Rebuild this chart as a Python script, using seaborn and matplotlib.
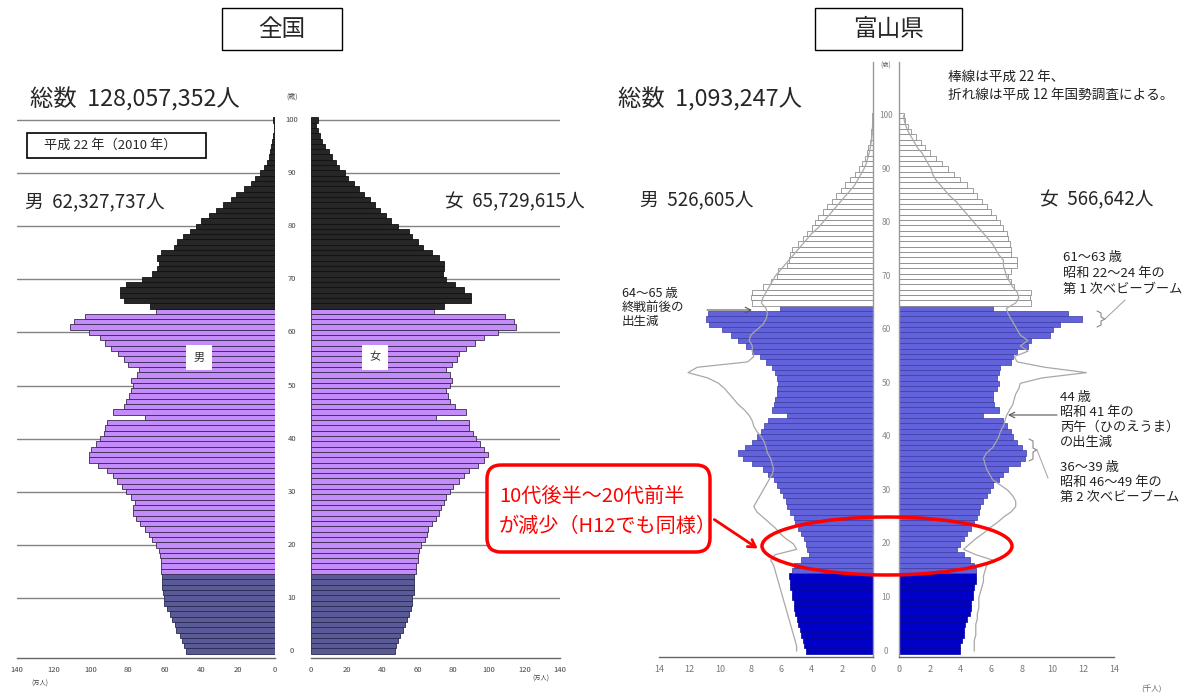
import matplotlib
matplotlib.use('Agg')
import matplotlib.pyplot as plt
from matplotlib.patches import Rectangle, FancyBboxPatch, Ellipse
from matplotlib.transforms import blended_transform_factory
import pandas as pd
import seaborn as sns

# ---- data ----
ages = list(range(101))

# 全国 平成22年 (万人)
jp_male = [48.5, 49.5, 50.5, 51.5, 53.5, 54.5, 56, 57, 58.5, 60,
           60.5, 61, 61.5, 61.5, 61.5, 62, 62, 62, 62.5, 63,
           64.5, 66.5, 68.5, 70.5, 73.5, 75.5, 77, 77, 76, 78,
           81, 83, 86, 88, 91, 96, 101, 101, 100, 97,
           95, 93, 92, 91, 70.5, 88, 82, 81, 79, 78,
           77, 78, 75, 74, 80, 82, 85, 89, 92, 95,
           101, 111, 109, 103, 64.5, 68, 82, 84, 84, 81,
           72, 67, 64, 63, 64, 62, 55, 53, 50, 46,
           43, 40, 36, 32, 28, 24, 21, 17, 13, 11,
           8, 6, 4.5, 3.5, 2.5, 2, 1.5, 1, 0.7, 0.5, 1]
jp_female = [47, 48, 49, 50, 52, 53, 54, 55, 56, 57,
             57, 58, 58, 58, 58, 59, 59, 60, 60, 61,
             62, 64, 65, 66, 68, 70.5, 72, 73, 75, 76,
             78, 80, 83, 86, 89, 94, 97.5, 99.5, 97.5, 95,
             93, 91, 89, 89, 70.5, 87, 81, 78, 77, 76,
             78, 79, 78, 76, 79, 82, 83, 87, 92, 97.5,
             105, 115, 114, 109, 69, 75, 90, 90, 86, 81,
             76, 74, 75, 75, 72, 68, 63, 60, 57, 55,
             49, 45, 42, 39, 36, 33, 30, 27, 24, 21,
             19, 16, 14, 12, 10, 8, 6, 5, 4, 3, 4]

# 富山県 平成22年 (千人)
toyama_male = [4.4, 4.5, 4.6, 4.7, 4.8, 4.9, 5.0, 5.1, 5.2, 5.2,
               5.3, 5.3, 5.4, 5.4, 5.5, 5.3, 5.2, 4.7, 4.2, 4.3,
               4.4, 4.5, 4.7, 4.9, 5.1, 5.2, 5.4, 5.6, 5.7, 5.9,
               6.1, 6.3, 6.5, 6.9, 7.2, 7.9, 8.5, 8.8, 8.4, 7.9,
               7.6, 7.3, 7.1, 6.9, 5.6, 6.6, 6.5, 6.4, 6.3, 6.3,
               6.2, 6.3, 6.4, 6.6, 7.0, 7.4, 7.9, 8.3, 8.8, 9.3,
               9.9, 10.7, 10.9, 10.8, 6.1, 7.9, 8.0, 7.9, 7.2, 6.7,
               6.3, 6.2, 5.6, 5.5, 5.4, 5.3, 4.9, 4.6, 4.3, 4.0,
               3.8, 3.6, 3.3, 3.0, 2.7, 2.4, 2.1, 1.8, 1.5, 1.2,
               0.9, 0.7, 0.5, 0.4, 0.3, 0.2, 0.15, 0.1, 0.08, 0.05, 0.06]
toyama_female = [4.0, 4.0, 4.1, 4.2, 4.2, 4.3, 4.4, 4.6, 4.7, 4.7,
                 4.8, 4.8, 4.9, 5.0, 5.0, 5.0, 4.9, 4.6, 4.2, 3.8,
                 4.0, 4.2, 4.4, 4.7, 4.9, 5.1, 5.2, 5.3, 5.5, 5.7,
                 5.9, 6.1, 6.5, 6.8, 7.1, 7.9, 8.2, 8.3, 8.0, 7.7,
                 7.4, 7.3, 7.0, 6.8, 5.5, 6.5, 6.2, 6.1, 6.1, 6.4,
                 6.5, 6.4, 6.5, 6.6, 7.3, 7.4, 7.7, 8.4, 8.6, 9.8,
                 10.0, 10.5, 11.9, 11.0, 6.1, 8.6, 8.5, 8.6, 7.5, 7.3,
                 7.1, 7.3, 7.7, 7.7, 7.3, 7.3, 7.2, 7.1, 7.0, 6.8,
                 6.6, 6.3, 6.0, 5.7, 5.4, 5.1, 4.8, 4.4, 4.0, 3.6,
                 3.2, 2.8, 2.4, 2.0, 1.7, 1.4, 1.1, 0.8, 0.6, 0.4, 0.3]

# 富山県 平成12年 (千人) 折れ線
toyama_male_h12 = [5.0, 5.0, 5.1, 5.2, 5.3, 5.4, 5.5, 5.6, 5.7, 5.8,
                   5.9, 6.0, 6.1, 6.2, 6.3, 6.4, 6.5, 6.7, 6.4, 5.0,
                   5.2, 5.7, 6.1, 6.4, 6.8, 7.2, 7.6, 7.8, 7.6, 7.4,
                   7.2, 7.0, 6.8, 6.6, 6.5, 6.6, 6.7, 6.9, 7.0, 7.1,
                   7.3, 7.6, 7.8, 7.9, 8.1, 8.4, 8.8, 9.1, 9.4, 9.7,
                   10.1, 10.8, 12.1, 11.5, 8.2, 7.8, 7.9, 7.9, 8.1, 8.0,
                   7.6, 7.2, 7.0, 6.9, 7.0, 7.3, 7.2, 7.0, 6.8, 6.6,
                   6.4, 6.1, 5.8, 5.5, 5.2, 4.9, 4.6, 4.3, 4.0, 3.6,
                   3.3, 3.0, 2.7, 2.4, 2.1, 1.8, 1.5, 1.2, 1.0, 0.8,
                   0.6, 0.45, 0.35, 0.25, 0.18, 0.12, 0.08, 0.05, 0.03, 0.02, 0.02]
toyama_female_h12 = [4.9, 4.9, 4.9, 5.0, 5.0, 5.0, 5.1, 5.1, 5.2, 5.2,
                     5.2, 5.3, 5.4, 5.5, 5.5, 5.6, 5.7, 6.1, 5.0, 4.2,
                     4.6, 5.0, 5.5, 5.9, 6.4, 6.8, 7.3, 7.6, 7.6, 7.4,
                     7.1, 6.6, 6.1, 5.9, 5.7, 5.6, 5.5, 5.7, 6.1, 6.3,
                     6.5, 6.6, 6.8, 6.9, 7.0, 7.2, 7.4, 7.5, 7.6, 7.8,
                     7.9, 9.3, 12.2, 9.5, 7.7, 7.5, 8.4, 7.9, 8.4, 7.9,
                     7.7, 7.5, 7.3, 7.1, 7.0, 7.6, 7.8, 7.7, 7.4, 7.2,
                     7.0, 6.9, 6.8, 6.8, 6.5, 6.3, 6.1, 5.8, 5.5, 5.2,
                     4.9, 4.6, 4.3, 4.0, 3.7, 3.3, 3.0, 2.7, 2.4, 2.2,
                     2.1, 1.9, 1.7, 1.5, 1.2, 1.0, 0.8, 0.6, 0.45, 0.35, 0.3]

jp_xticks = [0, 20, 40, 60, 80, 100, 120, 140]
toyama_xticks = [0, 2, 4, 6, 8, 10, 12, 14]
age_ticks = [0, 10, 20, 30, 40, 50, 60, 70, 80, 90, 100]

# ---- style ----
jp_colors = {'0-14': '#5a5a96', '15-64': '#c38cfa', '65+': '#262626'}
jp_edges = {'0-14': '#2a2a50', '15-64': '#3a2a50', '65+': '#111111'}
ty_colors = {'0-14': '#0000c8', '15-64': '#6262da', '65+': '#ffffff'}
ty_edges = {'0-14': '#00009a', '15-64': '#3a3aa8', '65+': '#7a7a7a'}

sns.set_style('white')
plt.rcParams['font.family'] = ['Noto Sans CJK JP', 'DejaVu Sans']

W, H = 1190, 700
fig = plt.figure(figsize=(11.9, 7), dpi=100)


def add_ax(x0, x1, y_top, y_bot):
    return fig.add_axes([x0 / W, 1 - y_bot / H, (x1 - x0) / W, (y_bot - y_top) / H])


def age_group(a):
    if a < 15:
        return '0-14'
    if a < 65:
        return '15-64'
    return '65+'


def pyramid_side(ax, values, colors, edges, lw):
    df = pd.DataFrame({'age': ages, 'pop': values})
    df['group'] = df['age'].map(age_group)
    for g, sub in df.groupby('group'):
        sns.barplot(data=sub, x='pop', y='age', orient='y', native_scale=True,
                    width=1, color=colors[g], edgecolor=edges[g], linewidth=lw,
                    saturation=1, errorbar=None, ax=ax)


def style_side(ax, xmax, left, ticks, ylim, fs, tcolor, inner_spine):
    ax.set_xlim((xmax, 0) if left else (0, xmax))
    ax.set_ylim(*ylim)
    ax.set_xticks(ticks)
    ax.set_xticklabels([str(t) for t in ticks], fontsize=fs, color=tcolor)
    ax.set_yticks([])
    ax.set_xlabel('')
    ax.set_ylabel('')
    ax.tick_params(axis='x', direction='in', length=3, width=0.8, colors='#666666', labelcolor=tcolor, pad=6)
    for s in ['top', 'left', 'right']:
        ax.spines[s].set_visible(False)
    ax.spines['bottom'].set_color('#666666')
    ax.spines['bottom'].set_linewidth(1)
    if inner_spine:
        side = 'right' if left else 'left'
        ax.spines[side].set_visible(True)
        ax.spines[side].set_color('#999999')
        ax.spines[side].set_linewidth(1)
    ax.patch.set_alpha(0)


# ---- 全国 ----
jp_ylim = (-1.3, 100.5)
ax_jm = add_ax(17, 275, 117.3, 658)
ax_jf = add_ax(311, 560, 117.3, 658)
for ax in (ax_jm, ax_jf):
    for a in age_ticks[1:]:
        ax.axhline(a, color='#848484', lw=1, zorder=0.5)
pyramid_side(ax_jm, jp_male, jp_colors, jp_edges, 0.6)
pyramid_side(ax_jf, jp_female, jp_colors, jp_edges, 0.6)
style_side(ax_jm, 140, True, jp_xticks, jp_ylim, 5.5, '#444444', False)
style_side(ax_jf, 140, False, jp_xticks, jp_ylim, 5.5, '#444444', False)

# ---- 富山県 ----
ty_ylim = (-1.1, 110)
ax_tm = add_ax(659, 873, 62, 657)
ax_tf = add_ax(899, 1114, 62, 657)
pyramid_side(ax_tm, toyama_male, ty_colors, ty_edges, 0.5)
pyramid_side(ax_tf, toyama_female, ty_colors, ty_edges, 0.5)
sns.lineplot(x=toyama_male_h12, y=ages, orient='y', errorbar=None,
             color='#a8a8a8', lw=0.9, ax=ax_tm)
sns.lineplot(x=toyama_female_h12, y=ages, orient='y', errorbar=None,
             color='#a8a8a8', lw=0.9, ax=ax_tf)
style_side(ax_tm, 14, True, toyama_xticks, ty_ylim, 6.5, '#777777', True)
style_side(ax_tf, 14, False, toyama_xticks, ty_ylim, 6.5, '#777777', True)

# ---- overlay in pixel coordinates ----
ov = fig.add_axes([0, 0, 1, 1], zorder=5)
ov.set_xlim(0, W)
ov.set_ylim(H, 0)
ov.axis('off')
ov.patch.set_alpha(0)

# center age labels
for ax, xc, fs, col in ((ax_jm, 292, 5.5, '#444444'), (ax_tm, 886, 6, '#888888')):
    tr = blended_transform_factory(ov.transData, ax.transData)
    for a in age_ticks:
        ov.text(xc, a, str(a), transform=tr, ha='center', va='center', fontsize=fs, color=col)
ov.text(292, 97, '(歳)', ha='center', va='center', fontsize=5, color='#444444')
ov.text(886, 66, '(歳)', ha='center', va='center', fontsize=4.5, color='#666666')
ov.text(40, 684, '(万人)', ha='center', va='center', fontsize=4.5, color='#444444')
ov.text(541, 679, '(万人)', ha='center', va='center', fontsize=4.5, color='#444444')
ov.text(1152, 690, '(千人)', ha='center', va='center', fontsize=5.5, color='#666666')

# titles
for x0, x1, label in ((222, 342, '全国'), (815, 962, '富山県')):
    ov.add_patch(Rectangle((x0, 8), x1 - x0, 42, fill=False, ec='black', lw=1))
    ov.text((x0 + x1) / 2, 30, label, ha='center', va='center', fontsize=17)

# totals
ov.text(30, 100, '総数  128,057,352人', ha='left', va='center', fontsize=16.8)
ov.text(618, 100, '総数  1,093,247人', ha='left', va='center', fontsize=16.8)
ov.text(25, 202, '男  62,327,737人', ha='left', va='center', fontsize=13.5)
ov.text(445, 202, '女  65,729,615人', ha='left', va='center', fontsize=13.5)
ov.text(640, 200, '男  526,605人', ha='left', va='center', fontsize=13.5)
ov.text(1040, 200, '女  566,642人', ha='left', va='center', fontsize=13.5)

ov.add_patch(Rectangle((27, 133), 179, 25, fill=False, ec='black', lw=1.2))
ov.text(44, 145.5, '平成 22 年（2010 年）', ha='left', va='center', fontsize=9.5)

# 男 / 女 labels inside the pyramid
for x, s in ((199, '男'), (375, '女')):
    ov.add_patch(Rectangle((x - 13, 345), 26, 25, fc='white', ec='none'))
    ov.text(x, 357.5, s, ha='center', va='center', fontsize=8, color='#333333')


def lines(x, y0, dy, texts, fs=9.5):
    for i, t in enumerate(texts):
        ov.text(x, y0 + i * dy, t, ha='left', va='center', fontsize=fs, color='#222222')


lines(948, 77, 18, ['棒線は平成 22 年、', '折れ線は平成 12 年国勢調査による。'], fs=9.8)
lines(1063, 257, 16, ['61～63 歳', '昭和 22～24 年の', '第 1 次ベビーブーム'])
lines(622, 294, 13.5, ['64～65 歳', '終戦前後の', '出生減'], fs=9)
lines(1060, 398, 14.7, ['44 歳', '昭和 41 年の', '丙午（ひのえうま）', 'の出生減'])
lines(1060, 468, 14.5, ['36～39 歳', '昭和 46～49 年の', '第 2 次ベビーブーム'])

# pointer arrows and brackets
arrow_kw = dict(arrowstyle='->', color='#555555', lw=0.8, shrinkA=0, shrinkB=0)
ov.annotate('', xy=(752, 310), xytext=(707, 310), arrowprops=arrow_kw)
ov.annotate('', xy=(1008, 415), xytext=(1057, 415), arrowprops=arrow_kw)
ov.plot([1097, 1101, 1101, 1105, 1101, 1101, 1097],
        [311, 313, 317, 319, 321, 325, 327], color='#888888', lw=0.8)
ov.plot([1105, 1125], [319, 300], color='#aaaaaa', lw=0.8)
ov.plot([1029, 1033, 1033, 1037, 1033, 1033, 1029],
        [439, 441, 448, 450, 452, 459, 461], color='#888888', lw=0.8)
ov.plot([1037, 1048], [450, 478], color='#aaaaaa', lw=0.8)

# red callout
ov.add_patch(FancyBboxPatch((487, 465), 223, 87, boxstyle='round,pad=0,rounding_size=14',
                            fc='white', ec='#ff0000', lw=2.5))
ov.text(499, 496, '10代後半～20代前半', ha='left', va='center', fontsize=14.5, color='#ff0000')
ov.text(499, 526, 'が減少（H12でも同様）', ha='left', va='center', fontsize=14.5, color='#ff0000')
ov.annotate('', xy=(760, 550), xytext=(712, 518),
            arrowprops=dict(arrowstyle='->,head_length=0.5,head_width=0.3', color='#ff0000', lw=2))
ov.add_patch(Ellipse((887, 546), 250, 58, fill=False, ec='#ff0000', lw=2.5))

fig.savefig('out.png', dpi=100)
